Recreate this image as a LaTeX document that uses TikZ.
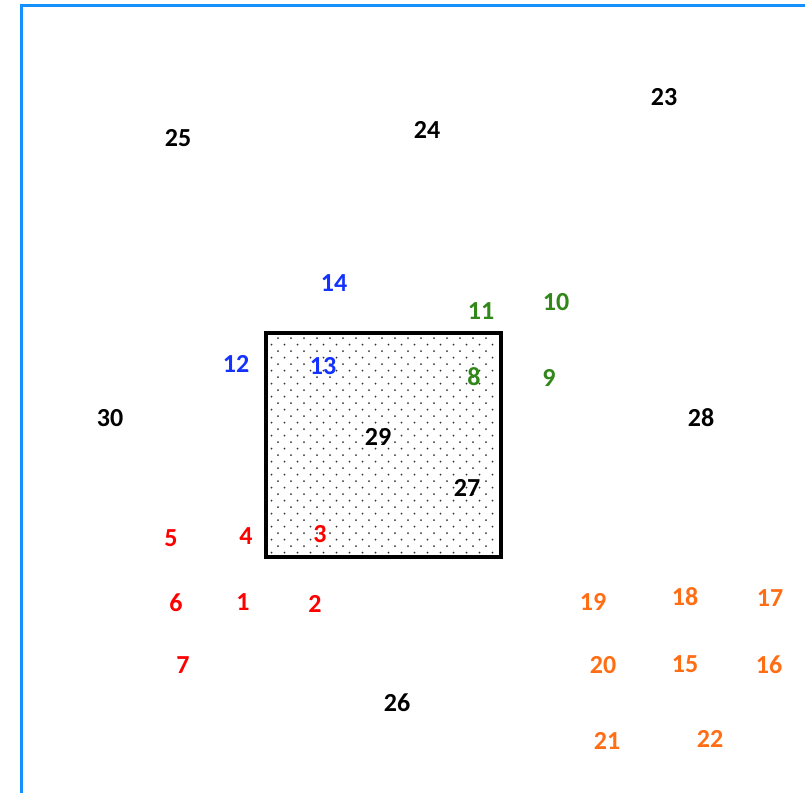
\documentclass[tikz,border=0pt]{standalone}
\usepackage{fontspec}
\setmainfont{Carlito}
\definecolor{bordblue}{RGB}{20,145,255}
\definecolor{nred}{RGB}{255,0,0}
\definecolor{nblue}{RGB}{20,50,255}
\definecolor{ngreen}{RGB}{50,135,25}
\definecolor{norange}{RGB}{255,110,20}
\tikzset{
  num/.style={font=\fontsize{26}{28}\selectfont\bfseries, inner sep=0pt, text=black},
  rnum/.style={num, text=nred},
  bnum/.style={num, text=nblue},
  gnum/.style={num, text=ngreen},
  onum/.style={num, text=norange},
  frame/.style={draw=bordblue, line width=3pt},
  boxline/.style={draw=black, line width=3.2pt},
  dotmark/.style={fill=black!80}
}
\begin{document}
\begin{tikzpicture}[x=1pt,y=-1pt]
\useasboundingbox (0,0) rectangle (805,793);
\fill[white] (0,0) rectangle (805,793);
% frame
\draw[frame] (21,793) -- (21,5) -- (805,5);
% dotted square
\coordinate (sqA) at (266,333);
\coordinate (sqB) at (501,557);
\foreach \r in {0,...,33} {
  \pgfmathsetmacro{\yy}{338+6.5*\r}
  \pgfmathsetmacro{\off}{mod(\r,2)==0 ? 278 : 271.5}
  \foreach \c in {0,...,17} {
    \pgfmathsetmacro{\xx}{\off+13*\c}
    \ifdim \xx pt<498pt
      \fill[dotmark] (\xx,\yy) circle (1.0);
    \fi
  }
}
\draw[boxline] (sqA) rectangle (sqB);
% labels
\node[num] (n25) at (178,138) {25};
\node[num] (n24) at (427,130) {24};
\node[num] (n23) at (664,97) {23};
\node[bnum] (n14) at (334,283) {14};
\node[gnum] (n11) at (481,311) {11};
\node[gnum] (n10) at (556,302) {10};
\node[bnum] (n12) at (236,364) {12};
\node[bnum] (n13) at (323,366) {13};
\node[gnum] (n8) at (474,377) {8};
\node[gnum] (n9) at (549,378) {9};
\node[num] (n30) at (110,418) {30};
\node[num] (n29) at (378,437) {29};
\node[num] (n28) at (701,418) {28};
\node[num] (n27) at (467,488) {27};
\node[rnum] (n5) at (171,538) {5};
\node[rnum] (n4) at (246,536) {4};
\node[rnum] (n3) at (320,534) {3};
\node[rnum] (n6) at (176,603) {6};
\node[rnum] (n1) at (243,602) {1};
\node[rnum] (n2) at (315,604) {2};
\node[rnum] (n7) at (183,665) {7};
\node[num] (n26) at (397,703) {26};
\node[onum] (n19) at (593,602) {19};
\node[onum] (n18) at (685,597) {18};
\node[onum] (n17) at (770,598) {17};
\node[onum] (n20) at (603,665) {20};
\node[onum] (n15) at (685,664) {15};
\node[onum] (n16) at (769,665) {16};
\node[onum] (n21) at (607,741) {21};
\node[onum] (n22) at (710,739) {22};
\end{tikzpicture}
\end{document}
